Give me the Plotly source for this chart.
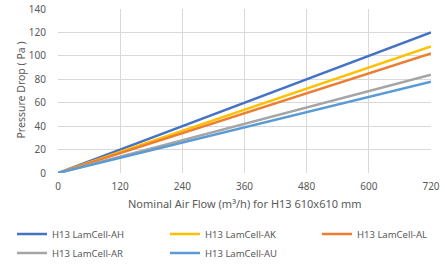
import plotly.graph_objects as go

flow = [0, 120, 240, 360, 480, 600, 720]
series_names = ["H13 LamCell-AH", "H13 LamCell-AK", "H13 LamCell-AL", "H13 LamCell-AR", "H13 LamCell-AU"]
ah = [0, 20, 40, 60, 80, 100, 120]
ak = [0, 18, 36, 54, 72, 90, 108]
al = [0, 17, 34, 51, 68, 85, 102]
ar = [0, 14, 28, 42, 56, 70, 84]
au = [0, 13, 26, 39, 52, 65, 78]
colors = ["#4472C4", "#FFC000", "#ED7D31", "#A5A5A5", "#5B9BD5"]
legend_slots = ["legend", "legend2", "legend3", "legend", "legend2"]
x_title = "Nominal Air Flow (m³/h) for H13 610x610 mm"
y_title = "Pressure Drop ( Pa )"

fig = go.Figure()
for name, vals, c, lg in zip(series_names, [ah, ak, al, ar, au], colors, legend_slots):
    fig.add_trace(go.Scatter(x=flow, y=vals, mode="lines", name=name, legend=lg,
                             line=dict(color=c, width=2.5)))

W, H = 445, 267
L, R, T, B = 58, 14, 9, 94
pw, ph = W - L - R, H - T - B

font = dict(family="Noto Sans, Open Sans, sans-serif", size=10, color="#595959")
leg_common = dict(orientation="v", xref="container", yref="container", yanchor="top",
                  xanchor="left", y=0.178, font=dict(size=9.5), itemwidth=30,
                  bgcolor="rgba(0,0,0,0)", tracegroupgap=0)
fig.update_layout(
    width=W, height=H,
    margin=dict(l=L, r=R, t=T, b=B, autoexpand=False),
    paper_bgcolor="white", plot_bgcolor="white",
    font=font,
    xaxis=dict(range=[0, 720], tickvals=flow, showgrid=True, gridcolor="#D9D9D9",
               zeroline=False, showline=False, ticks="", tickfont=dict(size=10),
               ticklabelstandoff=6),
    yaxis=dict(range=[0, 140], dtick=20, showgrid=True, gridcolor="#D9D9D9",
               zeroline=False, showline=False, ticks="", tickfont=dict(size=10),
               ticklabelstandoff=11),
    legend=dict(x=12 / W, **leg_common),
    legend2=dict(x=165 / W, **leg_common),
    legend3=dict(x=317 / W, **leg_common),
    showlegend=True,
    annotations=[
        dict(text=x_title, xref="paper", yref="paper", x=0.5, y=(T + ph - 203.5) / ph,
             xanchor="center", yanchor="middle", showarrow=False, font=dict(size=11)),
        dict(text=y_title, xref="paper", yref="paper", x=(20 - L) / pw, y=(T + ph - 90.5) / ph,
             xanchor="center", yanchor="middle", showarrow=False, textangle=-90,
             font=dict(size=10.5)),
    ],
)
fig.write_html("out.html", config={"displayModeBar": False},
               post_script="document.body.style.margin='0';")
